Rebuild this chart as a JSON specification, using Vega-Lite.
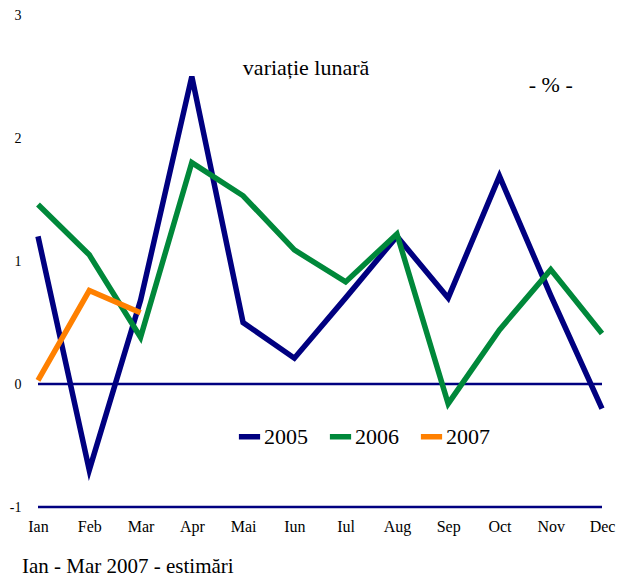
{
  "$schema": "https://vega.github.io/schema/vega-lite/v6.json",
  "autosize": "none",
  "width": 564,
  "height": 492,
  "padding": {"left": 38, "top": 15, "right": 17, "bottom": 73},
  "background": "white",
  "config": {
    "view": {"stroke": null},
    "font": "Liberation Serif",
    "axis": {"labelFont": "Liberation Serif", "labelColor": "#000", "domain": false, "ticks": false, "grid": false},
    "legend": {"labelFont": "Liberation Serif"}
  },
  "datasets": {
    "series": [
      {"month": "Ian", "year": "2005", "value": 1.2},
      {"month": "Feb", "year": "2005", "value": -0.7},
      {"month": "Mar", "year": "2005", "value": 0.68},
      {"month": "Apr", "year": "2005", "value": 2.5},
      {"month": "Mai", "year": "2005", "value": 0.5},
      {"month": "Iun", "year": "2005", "value": 0.21},
      {"month": "Iul", "year": "2005", "value": 0.7},
      {"month": "Aug", "year": "2005", "value": 1.2},
      {"month": "Sep", "year": "2005", "value": 0.7},
      {"month": "Oct", "year": "2005", "value": 1.69},
      {"month": "Nov", "year": "2005", "value": 0.72},
      {"month": "Dec", "year": "2005", "value": -0.2},
      {"month": "Ian", "year": "2006", "value": 1.46},
      {"month": "Feb", "year": "2006", "value": 1.05},
      {"month": "Mar", "year": "2006", "value": 0.38},
      {"month": "Apr", "year": "2006", "value": 1.8},
      {"month": "Mai", "year": "2006", "value": 1.53},
      {"month": "Iun", "year": "2006", "value": 1.09},
      {"month": "Iul", "year": "2006", "value": 0.83},
      {"month": "Aug", "year": "2006", "value": 1.22},
      {"month": "Sep", "year": "2006", "value": -0.16},
      {"month": "Oct", "year": "2006", "value": 0.44},
      {"month": "Nov", "year": "2006", "value": 0.93},
      {"month": "Dec", "year": "2006", "value": 0.41},
      {"month": "Ian", "year": "2007", "value": 0.03},
      {"month": "Feb", "year": "2007", "value": 0.76},
      {"month": "Mar", "year": "2007", "value": 0.58}
    ]
  },
  "layer": [
    {
      "data": {"values": [{"v": 0}, {"v": -1}]},
      "mark": {"type": "rule", "color": "#000080", "strokeWidth": 2.5},
      "encoding": {
        "y": {"field": "v", "type": "quantitative", "scale": {"domain": [-1, 3]}}
      }
    },
    {
      "data": {"name": "series"},
      "mark": {"type": "line", "strokeWidth": 5.5, "strokeCap": "butt", "strokeJoin": "miter"},
      "encoding": {
        "x": {
          "field": "month", "type": "ordinal",
          "sort": ["Ian","Feb","Mar","Apr","Mai","Iun","Iul","Aug","Sep","Oct","Nov","Dec"],
          "scale": {"type": "point", "padding": 0},
          "axis": {"title": null, "labelAngle": 0, "labelFont": "Liberation Serif", "labelFontSize": 16, "labelPadding": 11, "labelOverlap": false}
        },
        "y": {
          "field": "value", "type": "quantitative",
          "scale": {"domain": [-1, 3], "nice": false, "zero": false},
          "axis": {"title": null, "values": [-1, 0, 1, 2, 3], "labelExpr": "'' + datum.value", "labelFont": "Liberation Serif", "labelFontSize": 14, "labelPadding": 17}
        },
        "color": {
          "field": "year", "type": "nominal",
          "scale": {"domain": ["2005", "2006", "2007"], "range": ["#000080", "#00883A", "#FF8000"]},
          "legend": {
            "title": null, "orient": "none", "direction": "horizontal",
            "legendX": 198, "legendY": 408,
            "symbolType": "stroke", "symbolStrokeWidth": 5.5, "symbolSize": 450,
            "labelFont": "Liberation Serif",
            "labelFontSize": 22, "labelColor": "#000", "labelOffset": 1, "columnPadding": 10
          }
        }
      }
    },
    {
      "data": {"values": [{"t": "variație lunară"}]},
      "mark": {"type": "text", "font": "Liberation Serif", "fontSize": 22, "align": "center", "baseline": "middle", "dx": 63},
      "encoding": {"text": {"field": "t"}, "x": {"datum": "Mai"}, "y": {"datum": 2.57}}
    },
    {
      "data": {"values": [{"t": "- % -"}]},
      "mark": {"type": "text", "font": "Liberation Serif", "fontSize": 22, "align": "center", "baseline": "middle", "dx": 0},
      "encoding": {"text": {"field": "t"}, "x": {"datum": "Nov"}, "y": {"datum": 2.43}}
    },
    {
      "data": {"values": [{"t": "Ian - Mar 2007 - estimări"}]},
      "mark": {"type": "text", "font": "Liberation Serif", "fontSize": 21, "align": "left", "baseline": "middle", "dx": -16},
      "encoding": {"text": {"field": "t"}, "x": {"datum": "Ian"}, "y": {"datum": -1.49}}
    }
  ]
}
